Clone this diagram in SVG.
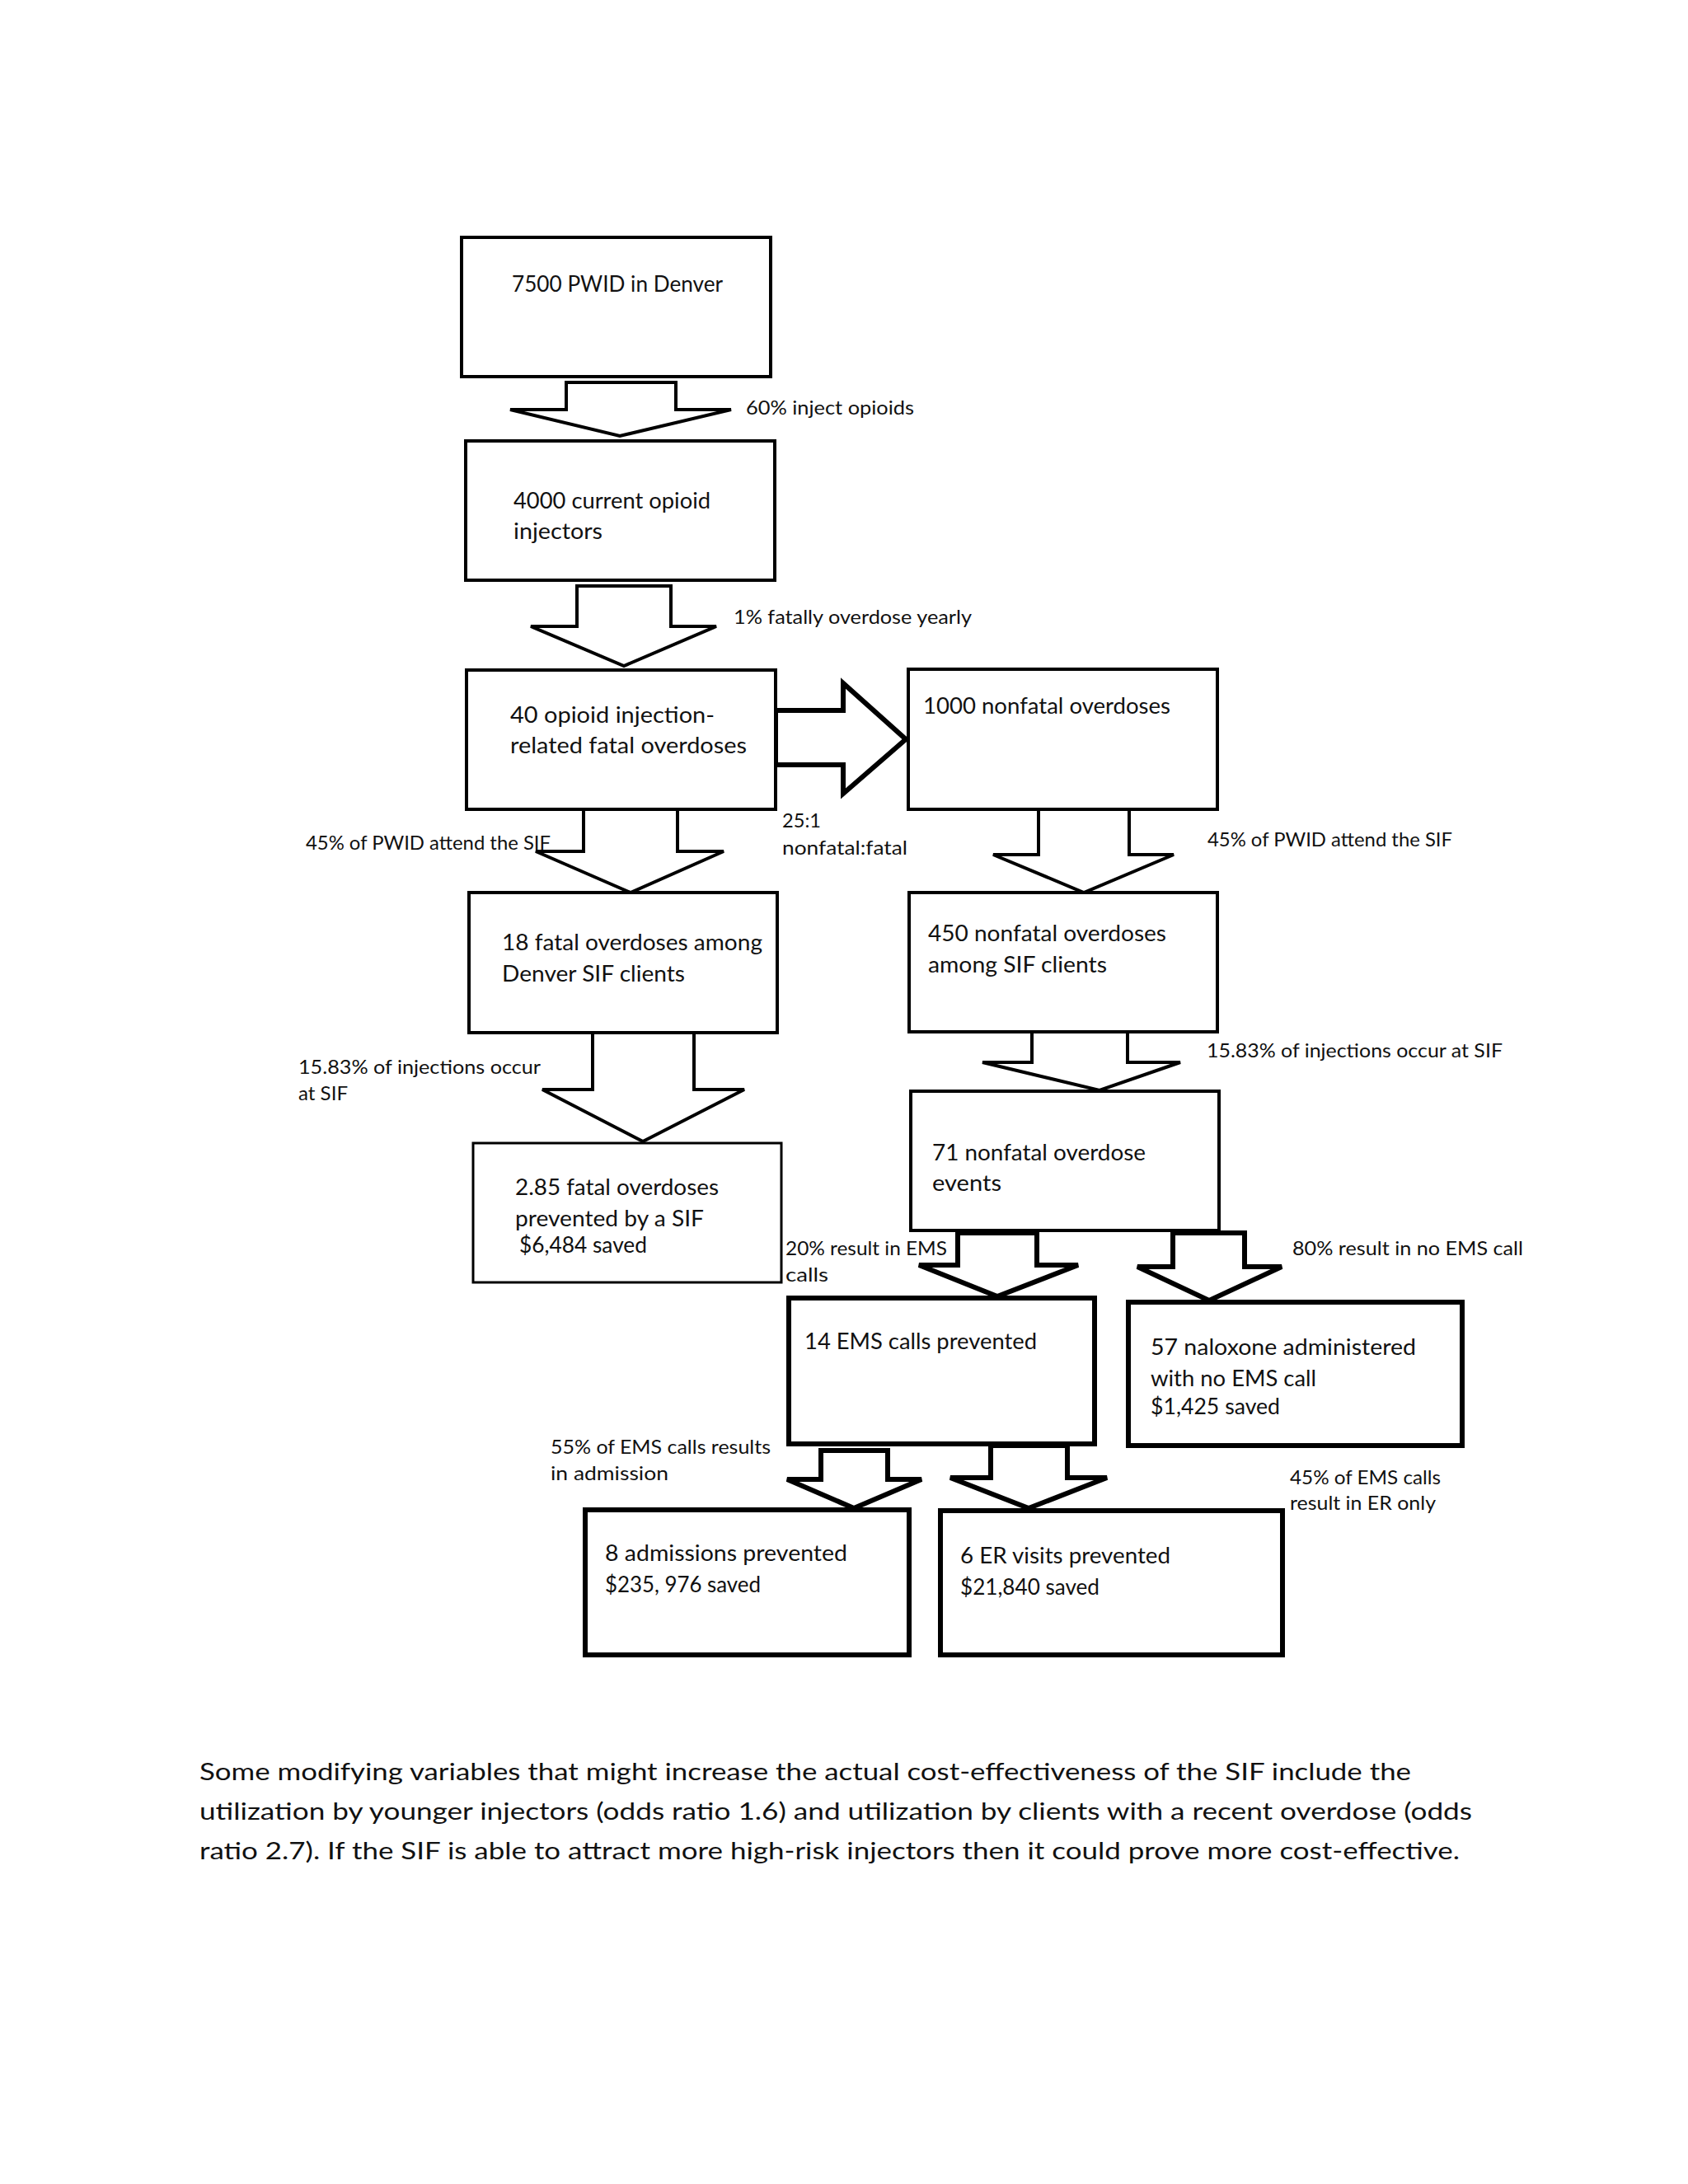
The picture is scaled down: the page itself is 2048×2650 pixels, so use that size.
<svg xmlns="http://www.w3.org/2000/svg" width="2048" height="2650" viewBox="0 0 2048 2650">
<style>
.bx{fill:#fff;stroke:#000;stroke-width:4}
.bxk{fill:#fff;stroke:#000;stroke-width:6}
.ar{fill:#fff;stroke:#000;stroke-width:4;stroke-linejoin:miter}
.ark{fill:#fff;stroke:#000;stroke-width:6;stroke-linejoin:miter}
text{font-family:Lato,"Open Sans","Liberation Sans",sans-serif;fill:#111}
.t{font-size:27px}
.l{font-size:23px}
.p{font-size:29px}
</style>
<rect width="2048" height="2650" fill="#fff"/>
<g id="connectors">
<polygon class="ar" points="687,464 820,464 820,497 887,497 752,529 619,497 687,497"/>
<polygon class="ar" points="700,711 814,711 814,760 869,760 757,808 644,760 700,760"/>
<polygon class="ark" points="941,862 1023,862 1023,829 1099,897 1023,963 1023,928 941,928"/>
<polygon class="ar" points="708,982 822,982 822,1033 878,1033 765,1083 650,1033 708,1033"/>
<polygon class="ar" points="1260,982 1370,982 1370,1037 1424,1037 1315,1083 1205,1037 1260,1037"/>
<polygon class="ar" points="719,1253 842,1253 842,1322 903,1322 780,1385 658,1322 719,1322"/>
<polygon class="ar" points="1252,1252 1368,1252 1368,1289 1432,1289 1334,1323 1192,1289 1252,1289"/>
<polygon class="ark" points="1162,1496 1258,1496 1258,1535 1308,1535 1210,1573 1115,1535 1162,1535"/>
<polygon class="ark" points="1423,1496 1510,1496 1510,1537 1555,1537 1467,1578 1380,1537 1423,1537"/>
<polygon class="ark" points="996,1760 1077,1760 1077,1795 1118,1795 1036,1830 955,1795 996,1795"/>
<polygon class="ark" points="1202,1754 1295,1754 1295,1793 1343,1793 1248,1830 1153,1793 1202,1793"/>
</g>
<g id="n1"><rect class="bx" x="560" y="288" width="375" height="169"/>
<text class="t" x="621" y="354" textLength="256" lengthAdjust="spacingAndGlyphs">7500 PWID in Denver</text></g>
<g id="n2"><rect class="bx" x="565" y="535" width="375" height="169"/>
<text class="t" x="623" y="617" textLength="239" lengthAdjust="spacingAndGlyphs">4000 current opioid</text>
<text class="t" x="623" y="654" textLength="108" lengthAdjust="spacingAndGlyphs">injectors</text></g>
<g id="n3"><rect class="bx" x="566" y="813" width="375" height="169"/>
<text class="t" x="619" y="877" textLength="248" lengthAdjust="spacingAndGlyphs">40 opioid injection-</text>
<text class="t" x="619" y="914" textLength="287" lengthAdjust="spacingAndGlyphs">related fatal overdoses</text></g>
<g id="n4"><rect class="bx" x="1102" y="812" width="375" height="170"/>
<text class="t" x="1120" y="866" textLength="300" lengthAdjust="spacingAndGlyphs">1000 nonfatal overdoses</text></g>
<g id="n5"><rect class="bx" x="569" y="1083" width="374" height="170"/>
<text class="t" x="609" y="1153" textLength="316" lengthAdjust="spacingAndGlyphs">18 fatal overdoses among</text>
<text class="t" x="609" y="1191" textLength="222" lengthAdjust="spacingAndGlyphs">Denver SIF clients</text></g>
<g id="n6"><rect class="bx" x="1103" y="1083" width="374" height="169"/>
<text class="t" x="1126" y="1142" textLength="289" lengthAdjust="spacingAndGlyphs">450 nonfatal overdoses</text>
<text class="t" x="1126" y="1180" textLength="217" lengthAdjust="spacingAndGlyphs">among SIF clients</text></g>
<g id="n7"><rect class="bx" x="574" y="1387" width="374" height="169" style="stroke-width:3"/>
<text class="t" x="625" y="1450" textLength="247" lengthAdjust="spacingAndGlyphs">2.85 fatal overdoses</text>
<text class="t" x="625" y="1488" textLength="229" lengthAdjust="spacingAndGlyphs">prevented by a SIF</text>
<text class="t" x="630" y="1520" textLength="155" lengthAdjust="spacingAndGlyphs">$6,484 saved</text></g>
<g id="n8"><rect class="bx" x="1105" y="1324" width="374" height="169"/>
<text class="t" x="1131" y="1408" textLength="259" lengthAdjust="spacingAndGlyphs">71 nonfatal overdose</text>
<text class="t" x="1131" y="1445" textLength="84" lengthAdjust="spacingAndGlyphs">events</text></g>
<g id="n9"><rect class="bxk" x="957" y="1575" width="371" height="177"/>
<text class="t" x="976" y="1637" textLength="282" lengthAdjust="spacingAndGlyphs">14 EMS calls prevented</text></g>
<g id="n10"><rect class="bxk" x="1369" y="1580" width="405" height="174"/>
<text class="t" x="1396" y="1644" textLength="322" lengthAdjust="spacingAndGlyphs">57 naloxone administered</text>
<text class="t" x="1396" y="1682" textLength="201" lengthAdjust="spacingAndGlyphs">with no EMS call</text>
<text class="t" x="1396" y="1716" textLength="157" lengthAdjust="spacingAndGlyphs">$1,425 saved</text></g>
<g id="n11"><rect class="bxk" x="710" y="1832" width="393" height="176"/>
<text class="t" x="734" y="1894" textLength="294" lengthAdjust="spacingAndGlyphs">8 admissions prevented</text>
<text class="t" x="734" y="1932" textLength="189" lengthAdjust="spacingAndGlyphs">$235, 976 saved</text></g>
<g id="n12"><rect class="bxk" x="1141" y="1833" width="415" height="175"/>
<text class="t" x="1165" y="1897" textLength="255" lengthAdjust="spacingAndGlyphs">6 ER visits prevented</text>
<text class="t" x="1165" y="1935" textLength="169" lengthAdjust="spacingAndGlyphs">$21,840 saved</text></g>
<g id="labels">
<text class="l" x="905" y="503" textLength="204" lengthAdjust="spacingAndGlyphs">60% inject opioids</text>
<text class="l" x="890" y="757" textLength="289" lengthAdjust="spacingAndGlyphs">1% fatally overdose yearly</text>
<text class="l" x="949" y="1004" textLength="47" lengthAdjust="spacingAndGlyphs">25:1</text>
<text class="l" x="949" y="1037" textLength="152" lengthAdjust="spacingAndGlyphs">nonfatal:fatal</text>
<text class="l" x="371" y="1031" textLength="297" lengthAdjust="spacingAndGlyphs">45% of PWID attend the SIF</text>
<text class="l" x="1465" y="1027" textLength="297" lengthAdjust="spacingAndGlyphs">45% of PWID attend the SIF</text>
<text class="l" x="362" y="1303" textLength="294" lengthAdjust="spacingAndGlyphs">15.83% of injections occur</text>
<text class="l" x="362" y="1335" textLength="60" lengthAdjust="spacingAndGlyphs">at SIF</text>
<text class="l" x="1464" y="1283" textLength="359" lengthAdjust="spacingAndGlyphs">15.83% of injections occur at SIF</text>
<text class="l" x="953" y="1523" textLength="196" lengthAdjust="spacingAndGlyphs">20% result in EMS</text>
<text class="l" x="953" y="1555" textLength="52" lengthAdjust="spacingAndGlyphs">calls</text>
<text class="l" x="1568" y="1523" textLength="280" lengthAdjust="spacingAndGlyphs">80% result in no EMS call</text>
<text class="l" x="668" y="1764" textLength="267" lengthAdjust="spacingAndGlyphs">55% of EMS calls results</text>
<text class="l" x="668" y="1796" textLength="143" lengthAdjust="spacingAndGlyphs">in admission</text>
<text class="l" x="1565" y="1801" textLength="183" lengthAdjust="spacingAndGlyphs">45% of EMS calls</text>
<text class="l" x="1565" y="1832" textLength="177" lengthAdjust="spacingAndGlyphs">result in ER only</text>
</g>
<g id="paragraph">
<text class="p" x="242" y="2160" textLength="1470" lengthAdjust="spacingAndGlyphs">Some modifying variables that might increase the actual cost-effectiveness of the SIF include the</text>
<text class="p" x="242" y="2208" textLength="1544" lengthAdjust="spacingAndGlyphs">utilization by younger injectors (odds ratio 1.6) and utilization by clients with a recent overdose (odds</text>
<text class="p" x="242" y="2256" textLength="1529" lengthAdjust="spacingAndGlyphs">ratio 2.7). If the SIF is able to attract more high-risk injectors then it could prove more cost-effective.</text>
</g>
</svg>
